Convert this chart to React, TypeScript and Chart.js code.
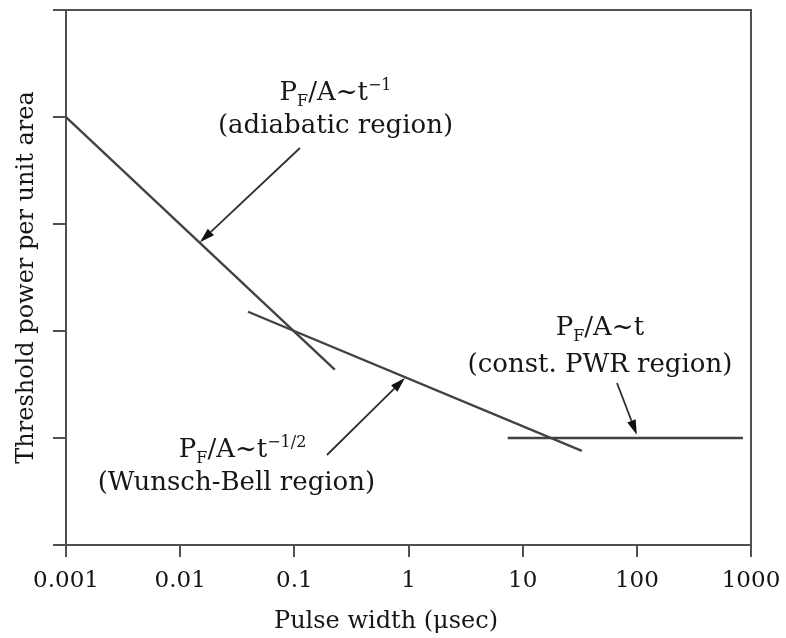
import React, { useEffect, useRef } from "react";
import { Chart, registerables } from "chart.js";

Chart.register(...registerables);

// ---- data ----
const xTickValues = [0.001, 0.01, 0.1, 1, 10, 100, 1000];
const xTickLabels = ["0.001", "0.01", "0.1", "1", "10", "100", "1000"];
const yTickValues = [0, 1, 2, 3, 4, 5];

const adiabaticX = [0.001, 0.226];
const adiabaticY = [4.0, 1.64];
const wunschBellX = [0.0393, 33];
const wunschBellY = [2.18, 0.88];
const constPwrX = [7.4, 850];
const constPwrY = [1.0, 1.0];

const xTitle = "Pulse width (μsec)";
const yTitle = "Threshold power per unit area";

// annotation text lines: anchor (x value, y value) = centre / baseline
const annX = [0.2296, 0.2296, 0.0352, 0.0311, 47.5, 47.5];
const annY = [4.159, 3.85, 0.822, 0.514, 1.963, 1.617];
const annParts: [string, string][][] = [
  [["P", ""], ["F", "sub"], ["/A~t", ""], ["−1", "sup"]],
  [["(adiabatic region)", ""]],
  [["P", ""], ["F", "sub"], ["/A~t", ""], ["−1/2", "sup"]],
  [["(Wunsch-Bell region)", ""]],
  [["P", ""], ["F", "sub"], ["/A~t", ""]],
  [["(const. PWR region)", ""]],
];

// arrows: from (x0,y0) to tip (x1,y1), in data values
const arrowX0 = [0.112, 0.193, 67];
const arrowY0 = [3.71, 0.841, 1.514];
const arrowX1 = [0.0149, 0.93, 100];
const arrowY1 = [2.83, 1.561, 1.03];

const FONT = '"DejaVu Serif", serif';
const TEXT = "#161616";
const LINE = "#424242";
const AXIS = "#505050";

function pts(xs: number[], ys: number[]) {
  return xs.map((x, i) => ({ x, y: ys[i] }));
}

const overlay = {
  id: "overlay",
  afterDraw(chart: any) {
    const { ctx, chartArea } = chart;
    const xs = chart.scales.x;
    const ys = chart.scales.y;
    ctx.save();
    // frame top and right
    ctx.strokeStyle = AXIS;
    ctx.lineWidth = 2;
    ctx.beginPath();
    ctx.moveTo(chartArea.left, chartArea.top);
    ctx.lineTo(chartArea.right, chartArea.top);
    ctx.lineTo(chartArea.right, chartArea.bottom);
    ctx.stroke();

    // arrows
    ctx.strokeStyle = "#2e2e2e";
    ctx.fillStyle = "#111";
    ctx.lineWidth = 1.8;
    for (let i = 0; i < arrowX0.length; i++) {
      const px0 = xs.getPixelForValue(arrowX0[i]);
      const py0 = ys.getPixelForValue(arrowY0[i]);
      const px1 = xs.getPixelForValue(arrowX1[i]);
      const py1 = ys.getPixelForValue(arrowY1[i]);
      const ang = Math.atan2(py1 - py0, px1 - px0);
      const hl = 15;
      const hw = 4.5;
      const bx = px1 - hl * Math.cos(ang);
      const by = py1 - hl * Math.sin(ang);
      ctx.beginPath();
      ctx.moveTo(px0, py0);
      ctx.lineTo(bx, by);
      ctx.stroke();
      ctx.beginPath();
      ctx.moveTo(px1, py1);
      ctx.lineTo(bx + hw * Math.sin(ang), by - hw * Math.cos(ang));
      ctx.lineTo(bx - hw * Math.sin(ang), by + hw * Math.cos(ang));
      ctx.closePath();
      ctx.fill();
    }

    // annotation texts
    ctx.fillStyle = TEXT;
    ctx.textBaseline = "alphabetic";
    ctx.textAlign = "left";
    const big = 26;
    const small = 16;
    for (let i = 0; i < annParts.length; i++) {
      const parts = annParts[i];
      let total = 0;
      const widths: number[] = [];
      for (const [t, k] of parts) {
        ctx.font = `${k ? small : big}px ${FONT}`;
        const w = ctx.measureText(t).width;
        widths.push(w);
        total += w;
      }
      let cx = xs.getPixelForValue(annX[i]) - total / 2;
      const by = ys.getPixelForValue(annY[i]);
      parts.forEach(([t, k], j) => {
        ctx.font = `${k ? small : big}px ${FONT}`;
        const dy = k === "sub" ? 6 : k === "sup" ? -10 : 0;
        ctx.fillText(t, cx, by + dy);
        cx += widths[j];
      });
    }

    // x axis title
    ctx.font = `24px ${FONT}`;
    ctx.textAlign = "center";
    ctx.fillText(xTitle, 386, 628);
    ctx.restore();
  },
};

export default function App() {
  const ref = useRef<HTMLCanvasElement | null>(null);
  useEffect(() => {
    if (!ref.current) return;
    const chart = new Chart(ref.current, {
      type: "line",
      data: {
        datasets: [
          { label: "adiabatic", data: pts(adiabaticX, adiabaticY) },
          { label: "Wunsch-Bell", data: pts(wunschBellX, wunschBellY) },
          { label: "const. PWR", data: pts(constPwrX, constPwrY) },
        ].map((d) => ({
          ...d,
          borderColor: LINE,
          borderWidth: 2.4,
          pointRadius: 0,
          fill: false,
          tension: 0,
        })),
      },
      options: {
        animation: false,
        responsive: true,
        maintainAspectRatio: false,
        layout: { padding: { top: 10, right: 35, left: 0, bottom: 0 } },
        plugins: { legend: { display: false }, tooltip: { enabled: false } },
        scales: {
          x: {
            type: "logarithmic",
            min: 0.001,
            max: 1000,
            afterBuildTicks: (s: any) => {
              s.ticks = xTickValues.map((v) => ({ value: v }));
            },
            afterFit: (s: any) => {
              s.height = 93;
              s.paddingLeft = 0;
              s.paddingRight = 0;
            },
            ticks: {
              autoSkip: false,
              maxRotation: 0,
              padding: 10,
              color: TEXT,
              font: { family: FONT, size: 23 },
              callback: (_v: any, i: number) => xTickLabels[i],
            },
            grid: {
              drawOnChartArea: false,
              drawTicks: true,
              tickLength: 12,
              color: AXIS,
              lineWidth: 2,
            },
            border: { display: true, color: AXIS, width: 2 },
          },
          y: {
            type: "linear",
            min: 0,
            max: 5,
            afterBuildTicks: (s: any) => {
              s.ticks = yTickValues.map((v) => ({ value: v }));
            },
            afterFit: (s: any) => {
              s.width = 66;
              s.paddingTop = 0;
              s.paddingBottom = 0;
            },
            ticks: { display: false },
            grid: {
              drawOnChartArea: false,
              drawTicks: true,
              tickLength: 13,
              color: AXIS,
              lineWidth: 2,
            },
            border: { display: true, color: AXIS, width: 2 },
            title: {
              display: true,
              text: yTitle,
              color: TEXT,
              font: { family: FONT, size: 24 },
              padding: { top: 12, bottom: 0 },
            },
          },
        },
      },
      plugins: [overlay],
    } as any);
    return () => chart.destroy();
  }, []);
  return (
    <div
      style={{
        position: "fixed",
        left: 0,
        top: 0,
        width: 786,
        height: 638,
        background: "#ffffff",
      }}
    >
      <canvas ref={ref} />
    </div>
  );
}
